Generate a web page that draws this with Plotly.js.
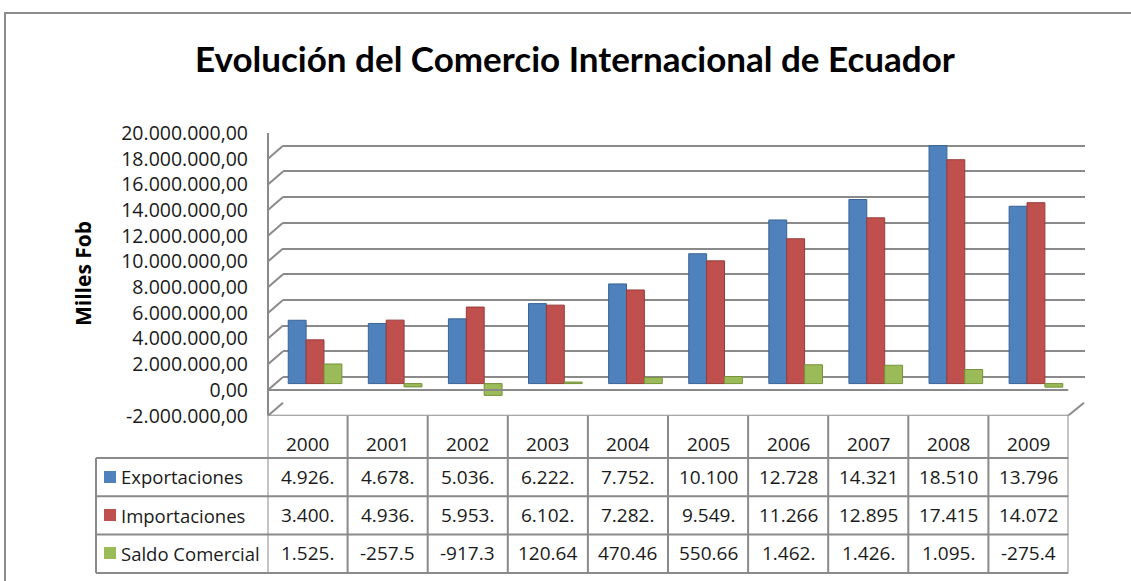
<!DOCTYPE html>
<html>
<head>
<meta charset="utf-8">
<script src="https://cdn.plot.ly/plotly-3.0.1.min.js"></script>
<style>html,body{margin:0;padding:0;background:#fff;}#chart{width:1131px;height:581px;}</style>
</head>
<body>
<div id="chart"></div>
<script>
// ---- data ----
const years = ['2000','2001','2002','2003','2004','2005','2006','2007','2008','2009'];
const exportaciones = [4926627, 4678436, 5036121, 6222693, 7752891, 10100031, 12728243, 14321316, 18510600, 13796946];
const importaciones = [3400954, 4936034, 5953428, 6102703, 7282357, 9549361, 11266019, 12895241, 17415327, 14072345];
const saldoComercial = [1525673, -257598, -917307, 120645, 470461, 550669, 1462224, 1426075, 1095273, -275450];
const seriesNames = ['Exportaciones', 'Importaciones', 'Saldo Comercial'];
const seriesColors = ['#4F81BD', '#C0504D', '#9BBB59'];
const seriesLines = ['#3A6496', '#963C3A', '#76923C'];
const yTickVals = [-2000000, 0, 2000000, 4000000, 6000000, 8000000, 10000000, 12000000, 14000000, 16000000, 18000000, 20000000];
const yTickText = ['-2.000.000,00', '0,00', '2.000.000,00', '4.000.000,00', '6.000.000,00', '8.000.000,00',
  '10.000.000,00', '12.000.000,00', '14.000.000,00', '16.000.000,00', '18.000.000,00', '20.000.000,00'];
const chartTitle = 'Evolución del Comercio Internacional de Ecuador';
const yTitle = 'Milles Fob';

const seriesValues = [exportaciones, importaciones, saldoComercial];

// ---- helpers ----
const W = 1131, H = 581;
const px = x => x / W;
const py = y => 1 - y / H;
function fmtCell(v) {
  const neg = v < 0;
  const s = Math.abs(Math.round(v)).toString().replace(/\B(?=(\d{3})+(?!\d))/g, '.');
  return ((neg ? '-' : '') + s + ',00').slice(0, 6);
}

const gridColor = '#8a8a8a';
const textColor = '#1a1a1a';
const yRange = [-2000000, 20000000];

// ---- traces ----
const traces = [];
// empty trace for back-wall grid subplot
traces.push({x: [], y: [], type: 'scatter', xaxis: 'x', yaxis: 'y', showlegend: false, hoverinfo: 'skip'});
seriesNames.forEach((name, s) => {
  traces.push({
    type: 'bar', name: name, x: years, y: seriesValues[s],
    xaxis: 'x2', yaxis: 'y2',
    marker: {color: seriesColors[s], line: {color: seriesLines[s], width: 1}},
    showlegend: false, hoverinfo: 'x+y+name'
  });
});
// category holder for the front plane / data table axis (no visible marks)
traces.push({x: years, y: years.map(() => null), type: 'scatter', mode: 'markers', xaxis: 'x3', yaxis: 'y3',
  showlegend: false, hoverinfo: 'skip'});

// ---- shapes & annotations ----
const shapes = [];
const annotations = [];

// outer border
shapes.push({type: 'rect', xref: 'paper', yref: 'paper', x0: px(5), x1: px(1140), y0: py(13), y1: py(600),
  line: {color: '#8c8c8c', width: 2}});

// left wall connectors (front -> back) for each tick
yTickVals.forEach(v => {
  shapes.push({type: 'line', xref: 'paper', yref: 'y3', ysizemode: 'pixel', yanchor: v,
    x0: px(268), x1: px(283), y0: 0, y1: 13, line: {color: gridColor, width: 2}});
});
// left wall front edge
shapes.push({type: 'line', xref: 'paper', yref: 'y3', x0: px(268), x1: px(268), y0: yRange[1], y1: yRange[0],
  line: {color: gridColor, width: 2}});
// front zero edge of floor
shapes.push({type: 'line', xref: 'x3', yref: 'y3', x0: -0.5, x1: 9.5, y0: 0, y1: 0, line: {color: gridColor, width: 2}});
// front edge of -2M floor (table top)
shapes.push({type: 'line', xref: 'x3', yref: 'y3', x0: -0.5, x1: 9.5, y0: yRange[0], y1: yRange[0], line: {color: gridColor, width: 2}});
// right floor diagonal
shapes.push({type: 'line', xref: 'paper', yref: 'y3', ysizemode: 'pixel', yanchor: yRange[0],
  x0: px(1068), x1: px(1084), y0: 0, y1: 13, line: {color: gridColor, width: 2}});

// table geometry (pixels)
const tableLeft = 96, tableTop = 458, rowH = 38.3;
const rowCenters = [477, 515, 553];
const headerY = 444;
const tableBottom = tableTop + rowH * 3;
// horizontal lines
for (let r = 0; r <= 3; r++) {
  const yy = tableTop + r * rowH;
  shapes.push({type: 'line', xref: 'paper', yref: 'paper', x0: px(tableLeft), x1: px(268), y0: py(yy), y1: py(yy), line: {color: gridColor, width: 2}});
  shapes.push({type: 'line', xref: 'x3', yref: 'paper', x0: -0.5, x1: 9.5, y0: py(yy), y1: py(yy), line: {color: gridColor, width: 2}});
}
// vertical lines
shapes.push({type: 'line', xref: 'paper', yref: 'paper', x0: px(tableLeft), x1: px(tableLeft), y0: py(tableTop), y1: py(tableBottom), line: {color: gridColor, width: 2}});
for (let i = 0; i <= years.length; i++) {
  shapes.push({type: 'line', xref: 'x3', yref: 'paper', x0: i - 0.5, x1: i - 0.5, y0: py(415.7), y1: py(tableBottom), line: {color: gridColor, width: 2}});
}
// header years (category axis position = category index)
years.forEach((yr, i) => {
  annotations.push({xref: 'x3', yref: 'paper', x: i, y: py(headerY), text: yr, showarrow: false,
    font: {family: 'Open Sans', size: 19, color: textColor}, xanchor: 'center', yanchor: 'middle'});
});
// rows
seriesNames.forEach((name, s) => {
  const yc = rowCenters[s];
  shapes.push({type: 'rect', xref: 'paper', yref: 'paper', x0: px(104), x1: px(116), y0: py(yc - 6), y1: py(yc + 6),
    fillcolor: seriesColors[s], line: {width: 0}});
  annotations.push({xref: 'paper', yref: 'paper', x: px(119), y: py(yc), text: name, showarrow: false,
    font: {family: 'Open Sans', size: 18.5, color: textColor}, xanchor: 'left', yanchor: 'middle'});
  seriesValues[s].forEach((v, i) => {
    annotations.push({xref: 'x3', yref: 'paper', x: i, y: py(yc), text: fmtCell(v), showarrow: false,
      font: {family: 'Open Sans', size: 19, color: textColor}, xanchor: 'center', yanchor: 'middle'});
  });
});

// title
annotations.push({xref: 'paper', yref: 'paper', x: px(575), y: py(58), text: chartTitle, showarrow: false,
  font: {family: 'Lato', size: 35, color: '#000', weight: 'bold'}, xanchor: 'center', yanchor: 'middle'});
// y axis title
annotations.push({xref: 'paper', yref: 'paper', x: px(83), y: py(274), text: yTitle, showarrow: false, textangle: -90,
  font: {family: 'Open Sans', size: 21, color: '#000', weight: 'bold'}, xanchor: 'center', yanchor: 'middle'});

const layout = {
  width: W, height: H,
  margin: {l: 0, r: 0, t: 0, b: 0},
  paper_bgcolor: '#ffffff', plot_bgcolor: 'rgba(0,0,0,0)',
  showlegend: false,
  barmode: 'group', bargap: 0.33, bargroupgap: 0,
  // back wall grid
  xaxis: {domain: [px(283), px(1085)], range: [0, 1], visible: false, anchor: 'y', fixedrange: true},
  yaxis: {domain: [py(402.8), py(120)], range: yRange, anchor: 'x', tickvals: yTickVals, showticklabels: false,
    showgrid: true, gridcolor: gridColor, gridwidth: 2, zeroline: false, ticks: '', showline: false},
  // bars (mid depth)
  xaxis2: {domain: [px(275), px(1076)], type: 'category', range: [-0.5, 9.5], visible: false, anchor: 'y2'},
  yaxis2: {domain: [py(409.3), py(126.5)], range: yRange, visible: false, anchor: 'x2'},
  // front plane: labels and table
  xaxis3: {domain: [px(267.5), px(1068.5)], type: 'category', range: [-0.5, 9.5], visible: false, anchor: 'y3'},
  yaxis3: {domain: [py(415.7), py(133)], range: yRange, anchor: 'free', position: px(248), side: 'left',
    tickvals: yTickVals, ticktext: yTickText, showgrid: false, zeroline: false, ticks: '', showline: false,
    tickfont: {family: 'Open Sans', size: 19.5, color: textColor}},
  shapes: shapes,
  annotations: annotations
};

Plotly.newPlot('chart', traces, layout, {displayModeBar: false, staticPlot: true});
</script>
</body>
</html>
